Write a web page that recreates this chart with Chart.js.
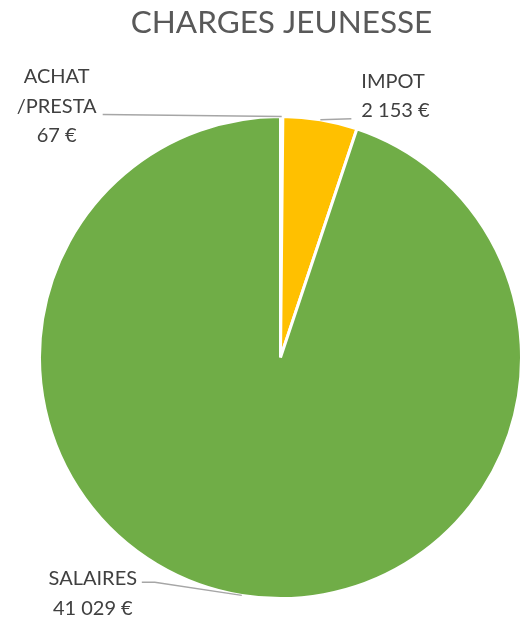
<!DOCTYPE html>
<html>
<head>
<meta charset="utf-8">
<script src="https://cdn.jsdelivr.net/npm/chart.js@4/dist/chart.umd.min.js"></script>
<style>
  html, body { margin: 0; padding: 0; background: #ffffff; }
  #wrap { width: 521px; height: 620px; position: relative; }
</style>
</head>
<body>
<div id="wrap"><canvas id="c" width="521" height="620"></canvas></div>
<script>
// ---- data ----
const chartTitle = "CHARGES JEUNESSE";
const categories = ["ACHAT\n/PRESTA", "IMPOT", "SALAIRES"];
const valueLabels = ["67 €", "2 153 €", "41 029 €"];
const values = [67, 2153, 41029];
const sliceColors = ["#5B9BD5", "#FFC000", "#70AD47"];

// ---- label placement (relative to each slice's rim mid-point) ----
const labelLayout = [
  { line: [[-179, -2]], text: [-225, -10], align: "center" },
  { line: [[31, -1]], text: [41, -24], align: "left" },
  { line: [[-87, -13], [-100, -13]], text: [-149, -2], align: "center" }
];

const labelPlugin = {
  id: "pieLabels",
  afterDatasetsDraw(chart) {
    const ctx = chart.ctx;
    const meta = chart.getDatasetMeta(0);
    ctx.save();
    // title
    ctx.fillStyle = "#595959";
    ctx.font = "31.5px Lato";
    ctx.textAlign = "center";
    ctx.textBaseline = "middle";
    const ca = chart.chartArea;
    ctx.fillText(chartTitle, (ca.left + ca.right) / 2 + 1, 23);

    meta.data.forEach((arc, i) => {
      const p = arc.getProps(["x", "y", "startAngle", "endAngle", "outerRadius"], true);
      const mid = (p.startAngle + p.endAngle) / 2;
      const rx = p.x + Math.cos(mid) * p.outerRadius;
      const ry = p.y + Math.sin(mid) * p.outerRadius;
      const L = labelLayout[i];
      ctx.strokeStyle = "#A6A6A6";
      ctx.lineWidth = 1.5;
      ctx.beginPath();
      ctx.moveTo(rx, ry);
      L.line.forEach(pt => ctx.lineTo(rx + pt[0], ry + pt[1]));
      ctx.stroke();

      const lines = categories[i].split("\n").concat([valueLabels[i]]);
      const lh = 29.5;
      const cx = rx + L.text[0];
      const cy = ry + L.text[1];
      ctx.fillStyle = "#404040";
      ctx.font = "20px Lato";
      ctx.textAlign = L.align;
      ctx.textBaseline = "middle";
      const y0 = cy - (lines.length - 1) * lh / 2;
      lines.forEach((t, k) => ctx.fillText(t, cx, y0 + k * lh));
    });
    ctx.restore();
  }
};

new Chart(document.getElementById("c"), {
  type: "pie",
  data: {
    labels: categories.map(c => c.replace("\n", "")),
    datasets: [{
      data: values,
      backgroundColor: sliceColors,
      borderColor: "#ffffff",
      borderWidth: 3
    }]
  },
  options: {
    responsive: false,
    animation: false,
    radius: 241,
    layout: { padding: { left: 40, right: 0, top: 115, bottom: 20 } },
    plugins: {
      legend: { display: false },
      title: { display: false },
      tooltip: { enabled: false }
    }
  },
  plugins: [labelPlugin]
});
</script>
</body>
</html>
